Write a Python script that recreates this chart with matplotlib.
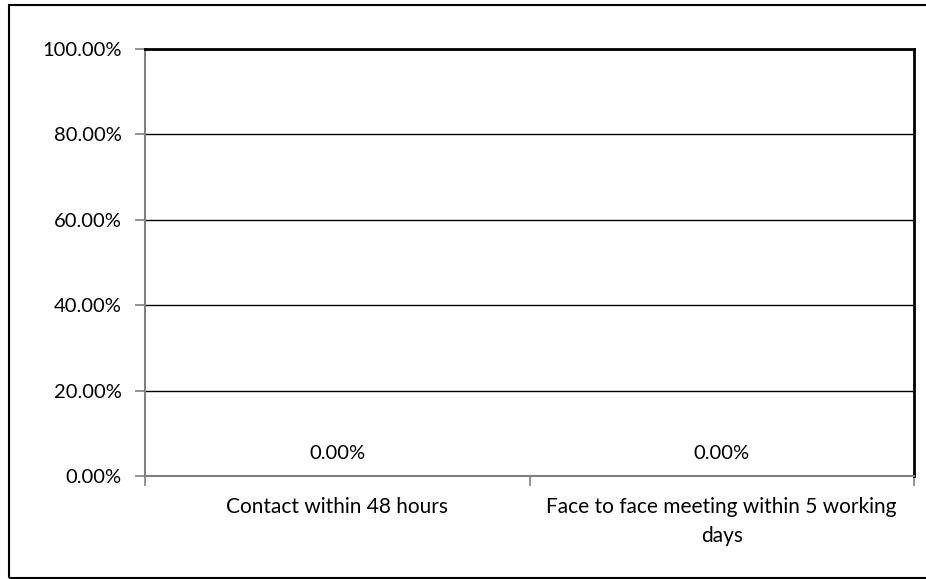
import matplotlib.pyplot as plt
from matplotlib.patches import Rectangle
from matplotlib.ticker import FuncFormatter

categories = ['Contact within 48 hours', 'Face to face meeting within 5 working\ndays']
values = [0.0, 0.0]
yticks = [0, 20, 40, 60, 80, 100]

plt.rcParams['font.family'] = ['Lato', 'DejaVu Sans']
FS = 14.5

W, H = 926, 579
fig = plt.figure(figsize=(W / 100, H / 100), dpi=100)

# chart area border (runs off the right edge)
fig.patches.append(Rectangle((9 / W, 1 - 578 / H), 1.0, (578 - 5) / H,
                             transform=fig.transFigure, fill=False,
                             edgecolor='#000000', linewidth=1.5))

left, right, top, bottom = 145, 914, 49, 476
ax = fig.add_axes([left / W, 1 - bottom / H, (right - left) / W, (bottom - top) / H])

x = range(len(categories))
ax.bar(x, values, width=0.5, color='#4472c4')
for xi, v in zip(x, values):
    ax.text(xi, v + 5.2, f'{v:.2f}%', ha='center', va='center', fontsize=FS, color='#000000')

ax.set_xlim(-0.5, len(categories) - 0.5)
ax.set_ylim(0, 100)
ax.set_yticks(yticks)
ax.yaxis.set_major_formatter(FuncFormatter(lambda v, p: f'{v:.2f}%'))
ax.grid(axis='y', color='#000000', linewidth=1.0)
ax.set_axisbelow(True)

# category labels between the boundary tick marks
ax.set_xticks([-0.5, 0.5, 1.5])
ax.set_xticklabels([])
ax.set_xticks(list(x), minor=True)
ax.set_xticklabels(categories, minor=True, fontsize=15, linespacing=1.55)
ax.tick_params(axis='x', which='minor', length=0, pad=15)
ax.tick_params(axis='x', which='major', length=7, color='#808080', width=1.2)
ax.tick_params(axis='y', length=7, color='#808080', width=1.2, labelsize=FS, pad=10)

for side in ['left', 'bottom']:
    ax.spines[side].set_color('#808080')
    ax.spines[side].set_linewidth(1.5)
for side in ['top', 'right']:
    ax.spines[side].set_color('#000000')
    ax.spines[side].set_linewidth(2)

fig.savefig('out.png', dpi=100)
